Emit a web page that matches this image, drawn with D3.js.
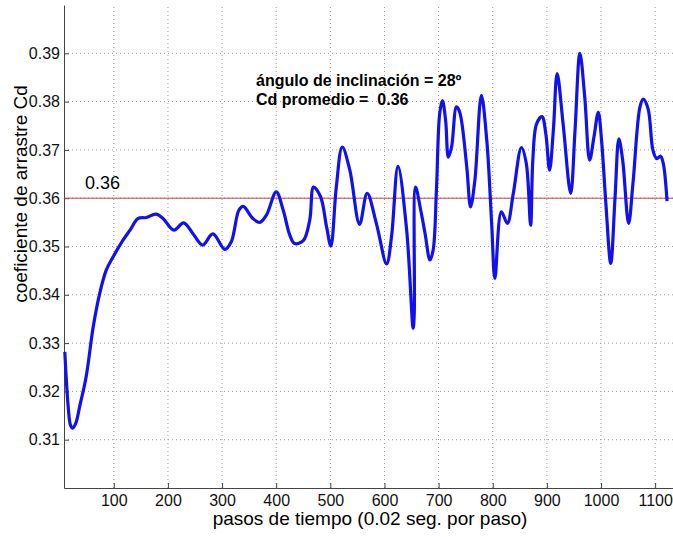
<!DOCTYPE html>
<html>
<head>
<meta charset="utf-8">
<script src="https://cdn.jsdelivr.net/npm/d3@7"></script>
<style>
  body { margin: 0; background: #fff; }
  text { font-family: "Liberation Sans", Arial, sans-serif; }
</style>
</head>
<body>
<svg id="canvas" width="673" height="537"></svg>
<script>
// time steps and drag coefficient
const steps = [9.5, 12, 16, 20, 24, 30, 37, 49, 62, 74, 86, 99, 117, 130, 145, 160, 178, 191, 211, 229,
  246, 264, 283, 305, 317, 331, 339, 357, 370, 382, 400, 413, 425, 434, 450, 462, 469, 482, 493, 501,
  511, 522, 536, 554, 568, 585, 604, 613, 625, 641, 653, 655, 657.5, 667, 675, 684, 690, 696, 702, 707,
  713, 718, 724, 733, 739, 752, 759, 767, 779, 789, 798, 804, 816, 827, 838, 853, 862, 870, 874, 881,
  891, 898, 905, 912, 919, 930, 944, 952, 961, 970, 979, 987, 995, 1001, 1009, 1018, 1026, 1033, 1040,
  1051, 1059, 1072, 1078, 1087, 1096, 1103, 1110, 1115, 1122];
const cd = [0.3282, 0.3230, 0.3165, 0.3130, 0.3124, 0.3135, 0.3169, 0.3231, 0.3334, 0.3403, 0.3451, 0.3479,
  0.3513, 0.3534, 0.3558, 0.3560, 0.3567, 0.3558, 0.3534, 0.3549, 0.3527, 0.3503, 0.3526, 0.3494, 0.3510,
  0.3575, 0.3583, 0.3558, 0.3550, 0.3565, 0.3613, 0.3575, 0.3524, 0.3506, 0.3512, 0.3555, 0.3623, 0.3603,
  0.3541, 0.3501, 0.3623, 0.3706, 0.3658, 0.3546, 0.3610, 0.3548, 0.3464, 0.3520, 0.3666, 0.3534, 0.3331,
  0.3360, 0.3623, 0.3575, 0.3527, 0.3472, 0.3493, 0.3617, 0.3775, 0.3802, 0.3761, 0.3685, 0.3706, 0.3789,
  0.3778, 0.3665, 0.3582, 0.3637, 0.3813, 0.3720, 0.3548, 0.3434, 0.3572, 0.3548, 0.3610, 0.3705, 0.3672,
  0.3544, 0.3678, 0.3754, 0.3769, 0.3734, 0.3658, 0.3741, 0.3858, 0.3754, 0.3610, 0.3740, 0.3900, 0.3809,
  0.3679, 0.3727, 0.3778, 0.3720, 0.3589, 0.3465, 0.3603, 0.3723, 0.3679, 0.3548, 0.3630, 0.3789, 0.3805,
  0.3785, 0.3699, 0.3682, 0.3687, 0.3672, 0.3594];
const xTicks = [100, 200, 300, 400, 500, 600, 700, 800, 900, 1000, 1100];
const yTicks = [0.31, 0.32, 0.33, 0.34, 0.35, 0.36, 0.37, 0.38, 0.39];
const meanCd = 0.36;
const notes = ["ángulo de inclinación = 28º", "Cd promedio =  0.36"];

const svg = d3.select('#canvas');
const x = d3.scaleLinear().domain([8, 1133]).range([64, 673]);
const y = d3.scaleLinear().domain([0.30, 0.40]).range([488, 5]);

// grid
svg.append('g')
    .selectAll('line')
    .data(xTicks)
    .join('line')
    .attr('x1', d => x(d)).attr('x2', d => x(d))
    .attr('y1', y(0.30)).attr('y2', y(0.40))
    .attr('stroke', '#9a9a9a').attr('stroke-dasharray', '1,3');
svg.append('g')
    .selectAll('line')
    .data(yTicks)
    .join('line')
    .attr('x1', x(8)).attr('x2', x(1133))
    .attr('y1', d => y(d)).attr('y2', d => y(d))
    .attr('stroke', '#9a9a9a').attr('stroke-dasharray', '1,3');

// axes (ticks point inward like matlab)
const xAxis = svg.append('g')
    .attr('transform', `translate(0,${y(0.30)})`)
    .call(d3.axisBottom(x).tickValues(xTicks).tickFormat(d3.format('d')).tickSizeInner(-5).tickSizeOuter(0).tickPadding(7));
const yAxis = svg.append('g')
    .attr('transform', `translate(${x(8)},0)`)
    .call(d3.axisLeft(y).tickValues(yTicks).tickFormat(d3.format('.2f')).tickSizeInner(-5).tickSizeOuter(0).tickPadding(4));
[xAxis, yAxis].forEach(a => {
    a.select('.domain').attr('stroke', '#444');
    a.selectAll('.tick line').attr('stroke', '#444');
    a.selectAll('.tick text').attr('fill', '#111').style('font-size', '16px')
        .style('font-family', '"Liberation Sans", Arial, sans-serif');
});

// mean line
svg.append('line')
    .attr('x1', x(8)).attr('x2', x(1133))
    .attr('y1', y(meanCd)).attr('y2', y(meanCd))
    .attr('stroke', '#d83c3c').attr('stroke-width', 1);
svg.append('text')
    .attr('x', 85).attr('y', y(meanCd) - 9)
    .style('font-size', '18px').attr('fill', '#000')
    .text(d3.format('.2f')(meanCd));

// curve
const line = d3.line()
    .x((d, i) => x(steps[i]))
    .y(d => y(d))
    .curve(d3.curveCatmullRom.alpha(0.5));
svg.append('path')
    .datum(cd)
    .attr('d', line)
    .attr('fill', 'none')
    .attr('stroke', '#1010f0')
    .attr('stroke-width', 3.2)
    .attr('stroke-linejoin', 'round');

// annotation
svg.append('g')
    .selectAll('text')
    .data(notes)
    .join('text')
    .attr('x', 256)
    .attr('y', (d, i) => 86 + i * 19)
    .style('font-size', '16px').style('font-weight', 'bold')
    .style('white-space', 'pre')
    .text(d => d);

// labels
svg.append('text')
    .attr('x', 370).attr('y', 525)
    .attr('text-anchor', 'middle')
    .style('font-size', '19px')
    .text('pasos de tiempo (0.02 seg. por paso)');
svg.append('text')
    .attr('transform', 'translate(27,194) rotate(-90)')
    .attr('text-anchor', 'middle')
    .style('font-size', '19px')
    .text('coeficiente de arrastre Cd');
</script>
</body>
</html>
